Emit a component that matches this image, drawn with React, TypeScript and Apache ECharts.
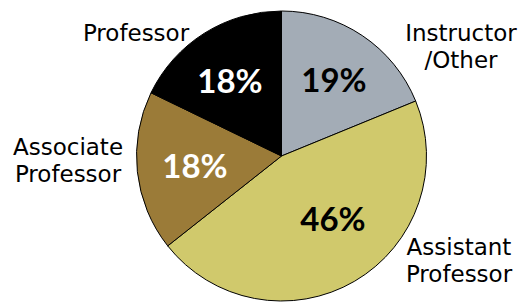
import React, { useEffect, useRef } from "react";
import * as echarts from "echarts";

const categories = ["Instructor\n/Other", "Assistant\nProfessor", "Associate\nProfessor", "Professor"];
const values = [19, 46, 18, 18];
const percentLabels = ["19%", "46%", "18%", "18%"];

const colors = ["#a3acb6", "#d0c96c", "#9b7b38", "#000000"];
const pctColors = ["#000000", "#000000", "#ffffff", "#ffffff"];
const namePos: [number, number][] = [
  [461, 46],
  [459, 260],
  [68, 160],
  [136, 33],
];
const pctPos: [number, number][] = [
  [334, 79],
  [333, 218],
  [195, 165],
  [230, 80],
];

const CX = 281.5;
const CY = 156;
const R = 145;
const NAME_FONT = "'DejaVu Sans', 'Open Sans', sans-serif";
const PCT_FONT = "Lato, 'Open Sans', sans-serif";

export default function App() {
  const ref = useRef<HTMLDivElement>(null);
  useEffect(() => {
    if (!ref.current) return;
    const chart = echarts.init(ref.current, null, { renderer: "svg" });
    const data = categories.map((c, i) => ({
      name: c,
      value: values[i],
      itemStyle: { color: colors[i] },
    }));
    chart.setOption({
      animation: false,
      backgroundColor: "#ffffff",
      series: [
        {
          type: "pie",
          center: [CX, CY],
          radius: [0, R],
          startAngle: 90,
          clockwise: true,
          silent: true,
          itemStyle: { borderColor: "#000", borderWidth: 1 },
          label: {
            show: true,
            position: "outside",
            formatter: (p: any) => p.name,
            fontFamily: NAME_FONT,
            fontSize: 23,
            lineHeight: 27,
            color: "#000",
            align: "center",
            overflow: "none",
            edgeDistance: 0,
          },
          labelLine: { show: false },
          labelLayout: (p: any) => ({
            x: namePos[p.dataIndex][0],
            y: namePos[p.dataIndex][1],
            align: "center",
            verticalAlign: "middle",
            width: 200,
          }),
          data,
        },
        {
          type: "pie",
          center: [CX, CY],
          radius: [R * 0.27, R],
          startAngle: 90,
          clockwise: true,
          silent: true,
          itemStyle: { color: "rgba(0,0,0,0)" },
          label: {
            show: true,
            position: "inside",
            formatter: (p: any) => percentLabels[p.dataIndex],
            fontFamily: PCT_FONT,
            fontWeight: "bold",
            fontSize: 33,
            color: "#000",
          },
          labelLayout: (p: any) => ({
            x: pctPos[p.dataIndex][0],
            y: pctPos[p.dataIndex][1],
            align: "center",
            verticalAlign: "middle",
          }),
          data: categories.map((c, i) => ({
            name: c,
            value: values[i],
            label: { color: pctColors[i] },
          })),
        },
      ],
    });
    return () => chart.dispose();
  }, []);
  return (
    <div
      ref={ref}
      style={{ position: "fixed", left: 0, top: 0, width: 522, height: 302 }}
    />
  );
}
